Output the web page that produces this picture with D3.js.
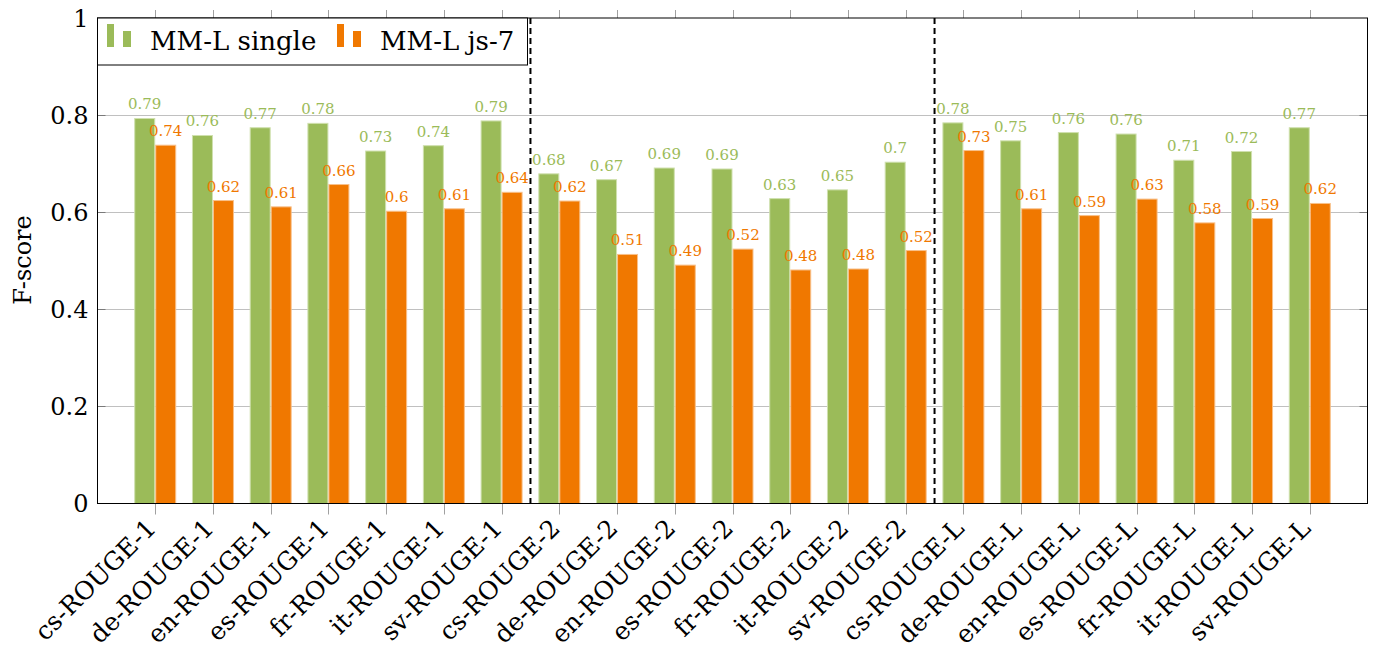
<!DOCTYPE html>
<html>
<head>
<meta charset="utf-8">
<script src="https://cdn.jsdelivr.net/npm/d3@7"></script>
<style>
  body { margin: 0; background: #fff; }
  text { font-family: 'DejaVu Serif', serif; }
</style>
</head>
<body>
<svg id="chart" width="1379" height="657"></svg>
<script>
var categories = ['cs-ROUGE-1', 'de-ROUGE-1', 'en-ROUGE-1', 'es-ROUGE-1', 'fr-ROUGE-1', 'it-ROUGE-1', 'sv-ROUGE-1',
    'cs-ROUGE-2', 'de-ROUGE-2', 'en-ROUGE-2', 'es-ROUGE-2', 'fr-ROUGE-2', 'it-ROUGE-2', 'sv-ROUGE-2',
    'cs-ROUGE-L', 'de-ROUGE-L', 'en-ROUGE-L', 'es-ROUGE-L', 'fr-ROUGE-L', 'it-ROUGE-L', 'sv-ROUGE-L'];

var single = [0.793, 0.758, 0.774, 0.783, 0.726, 0.737, 0.788,
    0.679, 0.667, 0.691, 0.689, 0.628, 0.646, 0.703,
    0.784, 0.747, 0.764, 0.761, 0.707, 0.725, 0.774];

var js7 = [0.738, 0.624, 0.611, 0.657, 0.602, 0.607, 0.641,
    0.623, 0.513, 0.491, 0.524, 0.481, 0.483, 0.521,
    0.727, 0.607, 0.593, 0.627, 0.578, 0.587, 0.618];

var seriesNames = ['MM-L single', 'MM-L js-7'];
var seriesColors = ['#9bbb59', '#f07800'];
var seriesEdges = ['#cfe0ae', '#f8c08a'];
var yTicks = [0, 0.2, 0.4, 0.6, 0.8, 1];
var groupSeparators = [6.5, 13.5];

var svg = d3.select('#chart');

var LEFT = 97.5, RIGHT = 1367.5, TOP = 18, BOTTOM = 503.5;
var BAR_W = 20;

var x = d3.scaleLinear().domain([-1, categories.length]).range([LEFT, RIGHT]);
var y = d3.scaleLinear().domain([0, 1]).range([BOTTOM, TOP]);

// value labels like pgfplots: 0.70 -> 0.7
var fmt = function(v) { return d3.format('.2f')(v).replace(/0$/, ''); };

// Grid lines
svg.append('g')
    .selectAll('line')
    .data(yTicks.slice(1, -1))
    .enter()
    .append('line')
    .attr('x1', LEFT).attr('x2', RIGHT)
    .attr('y1', function(d) { return Math.round(y(d)) + 0.5; })
    .attr('y2', function(d) { return Math.round(y(d)) + 0.5; })
    .style('stroke', '#c0c0c0')
    .style('stroke-width', 1);

// Inner y ticks (left and right)
var gYTicks = svg.append('g');
yTicks.slice(1, -1).forEach(function(t) {
    var yy = Math.round(y(t)) + 0.5;
    gYTicks.append('line').attr('x1', LEFT).attr('x2', LEFT + 8).attr('y1', yy).attr('y2', yy)
        .style('stroke', '#7a7a7a').style('stroke-width', 1);
    gYTicks.append('line').attr('x1', RIGHT - 8).attr('x2', RIGHT).attr('y1', yy).attr('y2', yy)
        .style('stroke', '#7a7a7a').style('stroke-width', 1);
});

// x ticks outside the box (bottom and top)
var gXTicks = svg.append('g');
categories.forEach(function(c, i) {
    var xx = Math.round(x(i)) + 0.5;
    gXTicks.append('line').attr('x1', xx).attr('x2', xx).attr('y1', BOTTOM).attr('y2', BOTTOM + 11)
        .style('stroke', '#a0a0a0').style('stroke-width', 1);
    gXTicks.append('line').attr('x1', xx).attr('x2', xx).attr('y1', TOP - 8).attr('y2', TOP)
        .style('stroke', '#a0a0a0').style('stroke-width', 1);
});

// Bars
[single, js7].forEach(function(values, s) {
    var g = svg.append('g');
    var shift = s === 0 ? -BAR_W - 0.5 : 0.5;
    g.selectAll('rect')
        .data(values)
        .enter()
        .append('rect')
        .attr('x', function(d, i) { return x(i) + shift; })
        .attr('width', BAR_W)
        .attr('y', function(d) { return y(d); })
        .attr('height', function(d) { return BOTTOM - y(d); })
        .style('fill', seriesColors[s])
        .style('stroke', seriesEdges[s])
        .style('stroke-width', 1);

    g.selectAll('text')
        .data(values)
        .enter()
        .append('text')
        .attr('x', function(d, i) { return x(i) + shift + BAR_W / 2; })
        .attr('y', function(d) { return y(d) - 9; })
        .attr('text-anchor', 'middle')
        .style('font-size', '15px')
        .style('fill', seriesColors[s])
        .text(function(d) { return fmt(d); });
});

// Group separators
svg.append('g')
    .selectAll('line')
    .data(groupSeparators)
    .enter()
    .append('line')
    .attr('x1', function(d) { return x(d); })
    .attr('x2', function(d) { return x(d); })
    .attr('y1', TOP)
    .attr('y2', BOTTOM)
    .style('stroke', '#000')
    .style('stroke-width', 2)
    .style('stroke-dasharray', '6,4');

// Plot frame
svg.append('rect')
    .attr('x', LEFT).attr('y', TOP)
    .attr('width', RIGHT - LEFT).attr('height', BOTTOM - TOP)
    .style('fill', 'none')
    .style('stroke', '#000')
    .style('stroke-width', 1);

// Y tick labels
svg.append('g')
    .selectAll('text')
    .data(yTicks)
    .enter()
    .append('text')
    .attr('x', LEFT - 9)
    .attr('y', function(d) { return y(d); })
    .attr('dy', '0.36em')
    .attr('text-anchor', 'end')
    .style('font-size', '24px')
    .text(function(d) { return d3.format('~g')(d); });

// X tick labels, rotated, anchored at their right middle
svg.append('g')
    .selectAll('text')
    .data(categories)
    .enter()
    .append('text')
    .attr('transform', function(d, i) {
        return 'translate(' + (x(i) - 4) + ',' + (BOTTOM + 20) + ') rotate(-45)';
    })
    .attr('text-anchor', 'end')
    .attr('dy', '0.35em')
    .style('font-size', '25px')
    .text(function(d) { return d; });

// Y axis title
svg.append('text')
    .attr('transform', 'translate(31,260) rotate(-90)')
    .attr('text-anchor', 'middle')
    .style('font-size', '24px')
    .text('F-score');

// Legend
var legend = svg.append('g');
legend.append('rect')
    .attr('x', LEFT).attr('y', TOP)
    .attr('width', 430).attr('height', 47)
    .style('fill', '#fff')
    .style('stroke', '#000')
    .style('stroke-width', 1);

var legendX = [107, 337];
seriesNames.forEach(function(name, s) {
    var lx = legendX[s];
    legend.append('rect').attr('x', lx).attr('y', 24).attr('width', 7).attr('height', 23)
        .style('fill', seriesColors[s]);
    legend.append('rect').attr('x', lx + 16).attr('y', 31).attr('width', 8).attr('height', 16)
        .style('fill', seriesColors[s]);
    legend.append('text')
        .attr('x', lx + 43).attr('y', 50)
        .style('font-size', '26px')
        .text(name);
});
</script>
</body>
</html>
